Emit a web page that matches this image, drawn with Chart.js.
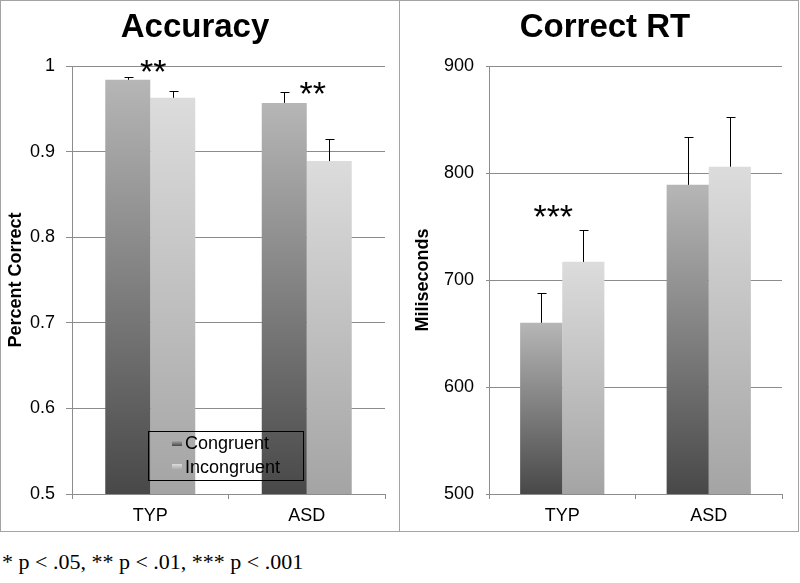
<!DOCTYPE html>
<html><head><meta charset="utf-8">
<script src="https://cdn.jsdelivr.net/npm/chart.js@4.4.1/dist/chart.umd.min.js"></script>
<style>
html,body{margin:0;padding:0;background:#fff;}
body{width:800px;height:583px;position:relative;overflow:hidden;}
.panel{position:absolute;top:0;height:532px;box-sizing:border-box;border:1px solid #a3a3a3;}
#p1{left:0;width:400px;}
#p2{left:399px;width:400px;}
.panel canvas{position:absolute;left:0;top:0;}
#note{position:absolute;left:2px;top:550px;font-family:"Liberation Serif","Times New Roman",serif;font-size:22px;line-height:24px;white-space:nowrap;color:#000;}
</style></head>
<body>
<div class="panel" id="p1"><canvas id="c1" width="398" height="530" style="width:398px;height:530px"></canvas></div>
<div class="panel" id="p2"><canvas id="c2" width="398" height="530" style="width:398px;height:530px"></canvas></div>
<div id="note">* p &lt; .05, ** p &lt; .01, *** p &lt; .001</div>
<script>
// ---- data ----
const groups = ['TYP', 'ASD'];
const seriesNames = ['Congruent', 'Incongruent'];
const accCongruent = [0.984, 0.957];
const accIncongruent = [0.963, 0.889];
const accCongruentErr = [0.003, 0.013];
const accIncongruentErr = [0.008, 0.026];
const accSig = ['**', '**'];
const accSigY = [1.0, 0.974];
const rtCongruent = [660, 789];
const rtIncongruent = [717, 806];
const rtCongruentErr = [28, 45];
const rtIncongruentErr = [30, 46];
const rtSig = ['***', ''];
const rtSigY = [765, null];

const FAMILY = '"Liberation Sans", Arial, Helvetica, sans-serif';
Chart.defaults.font.family = FAMILY;
Chart.defaults.color = '#000';

const CONG = ['#b6b6b6', '#484848'];
const INCONG = ['#dcdcdc', '#a4a4a4'];

function barGrad(cols) {
  return function (ctx) {
    const chart = ctx.chart;
    if (!chart.chartArea || ctx.type !== 'data') return cols[1];
    const ys = chart.scales.y;
    const top = ys.getPixelForValue(ctx.raw);
    const g = chart.ctx.createLinearGradient(0, top, 0, ys.bottom);
    g.addColorStop(0, cols[0]);
    g.addColorStop(1, cols[1]);
    return g;
  };
}

const overlay = {
  id: 'overlay',
  afterLayout(chart, args, opts) {
    if (chart.titleBlock && opts.titleShift) {
      chart.titleBlock.left += opts.titleShift;
      chart.titleBlock.right += opts.titleShift;
    }
  },
  afterDatasetsDraw(chart, args, opts) {
    const c = chart.ctx, ys = chart.scales.y, xs = chart.scales.x;
    c.save();
    c.strokeStyle = '#000';
    c.lineWidth = 1;
    chart.data.datasets.forEach((ds, i) => {
      const meta = chart.getDatasetMeta(i);
      meta.data.forEach((bar, j) => {
        const v = ds.data[j], e = opts.errors[i][j];
        const x = Math.round(bar.x) + 0.5;
        const y0 = ys.getPixelForValue(v);
        const y1 = Math.round(ys.getPixelForValue(v + e)) + 0.5;
        c.beginPath();
        c.moveTo(x, y0); c.lineTo(x, y1);
        c.moveTo(x - 4, y1); c.lineTo(x + 5, y1);
        c.stroke();
      });
    });
    c.fillStyle = '#000';
    c.font = '34px ' + FAMILY;
    c.textAlign = 'center';
    c.textBaseline = 'alphabetic';
    opts.sig.forEach((s, j) => {
      if (!s) return;
      const x = xs.getPixelForValue(j) + opts.sigDx[j];
      const y = ys.getPixelForValue(opts.sigY[j]) + 17;
      c.fillText(s, x, y);
    });
    if (opts.legend) {
      const L = opts.legend;
      c.strokeStyle = '#000';
      c.strokeRect(L.x + 0.5, L.y + 0.5, L.w, L.h);
      c.font = '18px ' + FAMILY;
      c.textAlign = 'left';
      c.textBaseline = 'middle';
      chart.data.datasets.forEach((ds, i) => {
        const cy = L.y + 12 + i * 24;
        const cols = i === 0 ? CONG : INCONG;
        const g = c.createLinearGradient(0, cy - 3, 0, cy + 3);
        g.addColorStop(0, cols[0]); g.addColorStop(1, cols[1]);
        c.fillStyle = g;
        c.fillRect(L.x + 24, cy - 3, 10, 6);
        c.fillStyle = '#000';
        c.fillText(ds.label, L.x + 37, cy + 1);
      });
    }
    c.restore();
  }
};

function makeChart(id, cfg) {
  return new Chart(document.getElementById(id), {
    type: 'bar',
    data: {
      labels: groups,
      datasets: [
        { label: seriesNames[0], data: cfg.cong, backgroundColor: barGrad(CONG), borderWidth: 0, categoryPercentage: 0.575, barPercentage: 1 },
        { label: seriesNames[1], data: cfg.incong, backgroundColor: barGrad(INCONG), borderWidth: 0, categoryPercentage: 0.575, barPercentage: 1 }
      ]
    },
    options: {
      responsive: false,
      maintainAspectRatio: false,
      animation: false,
      devicePixelRatio: 1,
      layout: { padding: { left: 0, right: cfg.padRight, top: 0, bottom: 0 } },
      plugins: {
        legend: { display: false },
        tooltip: { enabled: false },
        title: {
          display: true, text: cfg.title, color: '#000',
          font: { family: FAMILY, size: 33, weight: 'bold' },
          padding: { top: 7, bottom: 18.5 }
        },
        overlay: { errors: cfg.errors, sig: cfg.sig, sigY: cfg.sigY, sigDx: cfg.sigDx, legend: cfg.legend, titleShift: cfg.titleShift }
      },
      scales: {
        x: {
          grid: { display: true, drawOnChartArea: false, offset: true, tickLength: 5, color: '#8c8c8c' },
          border: { color: '#8c8c8c' },
          ticks: { font: { size: 18 }, color: '#000', padding: 6 },
          afterFit(s) { s.height = 37; }
        },
        y: {
          min: cfg.min, max: cfg.max,
          ticks: {
            stepSize: cfg.step, font: { size: 18 }, color: '#000', padding: cfg.tickPad,
            callback: (v) => String(Math.round(v * 10) / 10)
          },
          grid: { color: '#8c8c8c', tickLength: cfg.tickLen },
          border: { color: '#8c8c8c' },
          title: { display: true, text: cfg.yTitle, color: '#000', font: { size: 18, weight: 'bold' }, padding: { top: cfg.titlePad, bottom: 0 } },
          afterFit(s) { s.width = cfg.yWidth; }
        }
      }
    },
    plugins: [overlay]
  });
}

makeChart('c1', {
  title: 'Accuracy', yTitle: 'Percent Correct',
  cong: accCongruent, incong: accIncongruent,
  errors: [accCongruentErr, accIncongruentErr],
  sig: accSig, sigY: accSigY, sigDx: [3, 6],
  min: 0.5, max: 1, step: 0.1,
  yWidth: 71, tickLen: 6, tickPad: 11, titlePad: 4, padRight: 14,
  legend: { x: 147, y: 430, w: 155, h: 49 }, titleShift: 2
});
makeChart('c2', {
  title: 'Correct RT', yTitle: 'Miliseconds',
  cong: rtCongruent, incong: rtIncongruent,
  errors: [rtCongruentErr, rtIncongruentErr],
  sig: rtSig, sigY: rtSigY, sigDx: [-9, 0],
  min: 500, max: 900, step: 100,
  yWidth: 89, tickLen: 3, tickPad: 12, titlePad: 12, padRight: 16,
  legend: null, titleShift: 14
});
</script>
</body></html>
